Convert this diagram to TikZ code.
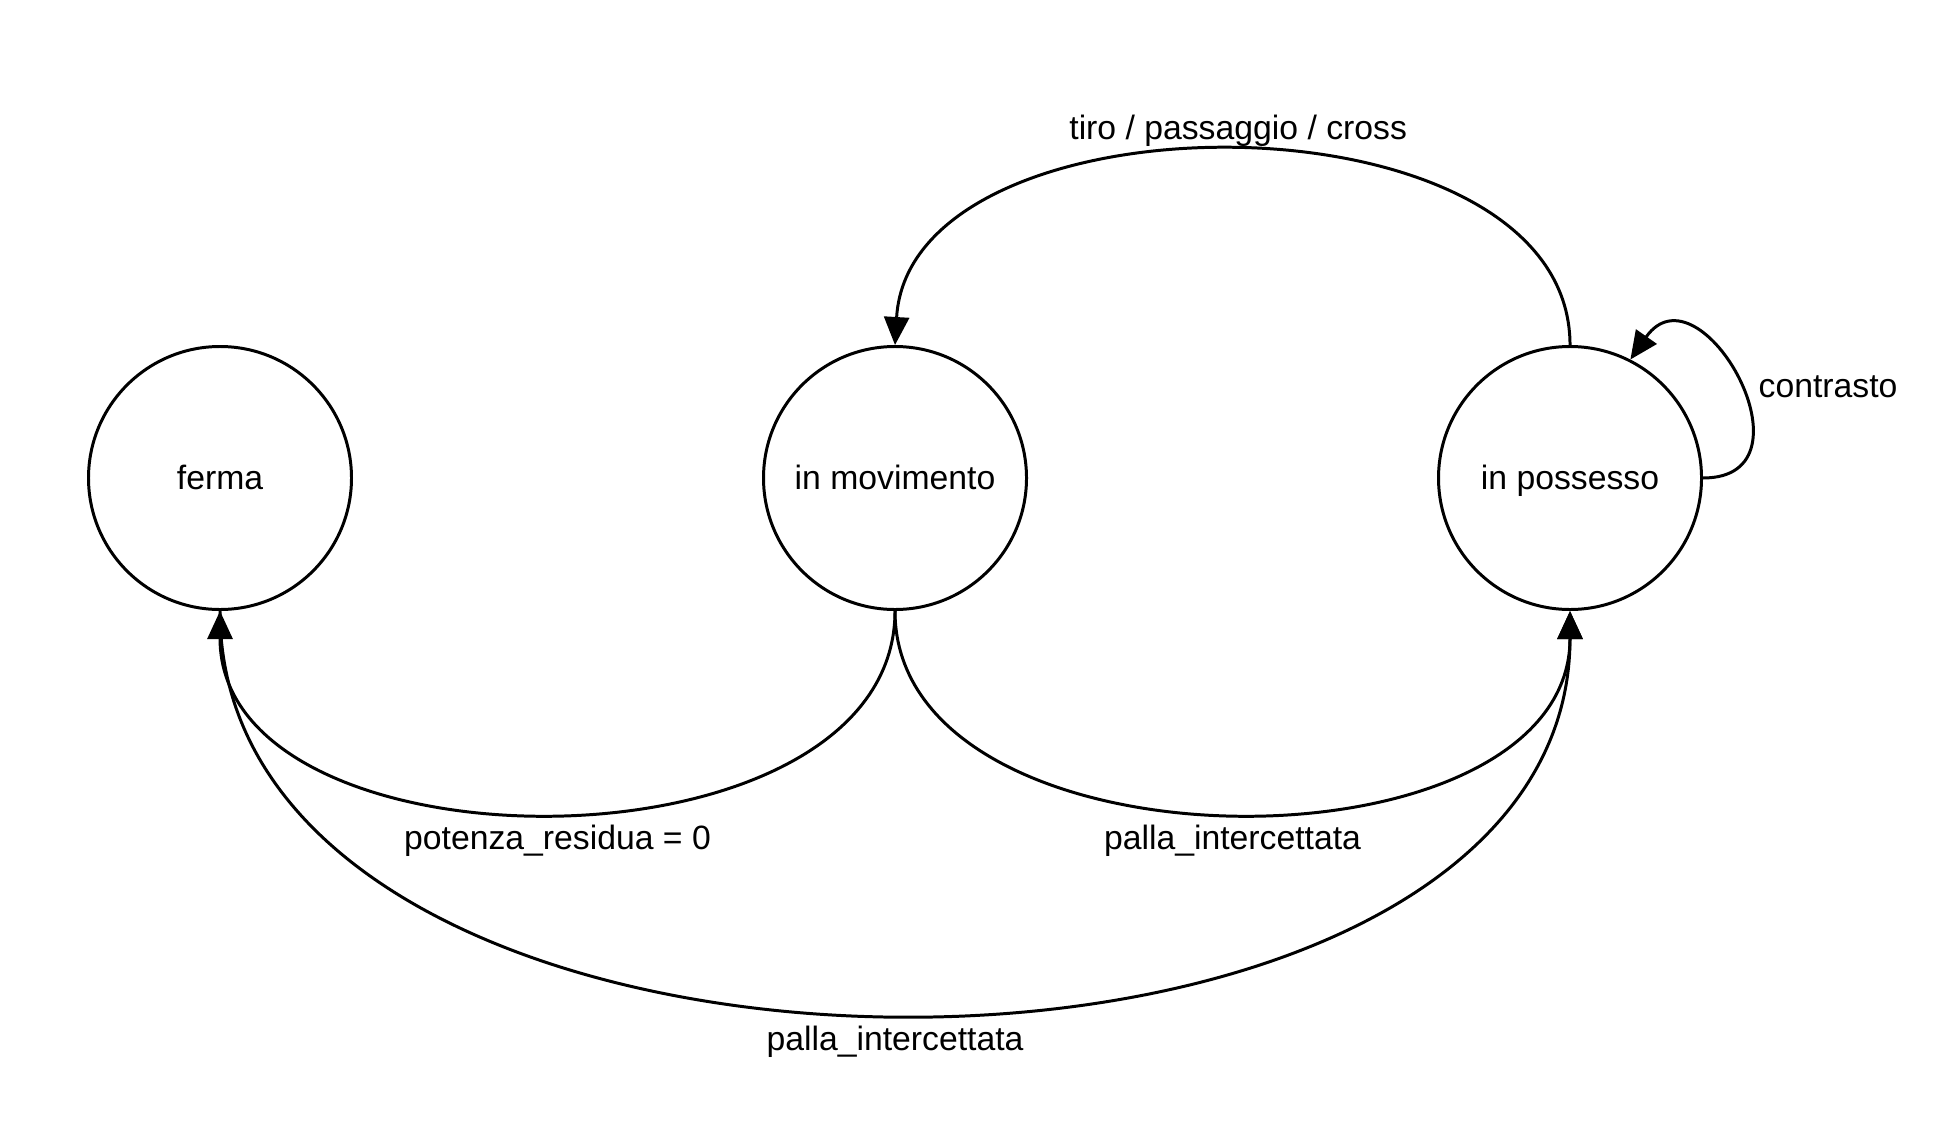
\documentclass[tikz,border=0pt]{standalone}
\usepackage{fontspec}
\setmainfont{Liberation Sans}
\usetikzlibrary{arrows.meta,positioning}

\begin{document}
\begin{tikzpicture}[line width=0.85pt]
  \tikzset{state/.style={draw,circle,minimum size=2.63cm,inner sep=0pt,text height=1.5ex,text depth=0.25ex,font=\fontsize{9.6}{11}\selectfont},
    lbl/.style={inner sep=0pt,text height=1.5ex,text depth=0.25ex,font=\fontsize{9.6}{11}\selectfont},
    trans/.style={-{Triangle[length=0.28cm,width=0.25cm]}}}
  \useasboundingbox (0,0) rectangle (19.38,11.22);
  \node[state] (ferma) at (2.20,6.44) {ferma};
  \node[state] (movimento) at (8.95,6.44) {in movimento};
  \node[state] (possesso) at (15.70,6.44) {in possesso};
  \draw[trans] (possesso.north) .. controls (15.70,10.36) and (9.10,10.36) .. node[lbl,midway,yshift=0.23cm]{tiro / passaggio / cross} (movimento.north);
  \draw[trans] (movimento.south) .. controls (8.95,2.42) and (2.20,2.42) .. node[lbl,midway,yshift=-0.25cm]{potenza\_residua = 0} (ferma.south);
  \draw[trans] (movimento.south) .. controls (8.95,2.42) and (15.70,2.42) .. node[lbl,midway,yshift=-0.25cm]{palla\_intercettata} (possesso.south);
  \draw[trans] (ferma.south) .. controls (2.20,-0.26) and (15.70,-0.26) .. node[lbl,midway,yshift=-0.25cm]{palla\_intercettata} (possesso.south);
  \draw[trans] (possesso.east) .. controls (18.22,6.44) and (17.00,8.62) .. (possesso.63);
  \node[lbl] (contrasto) at (18.28,7.36) {contrasto};
\end{tikzpicture}
\end{document}
